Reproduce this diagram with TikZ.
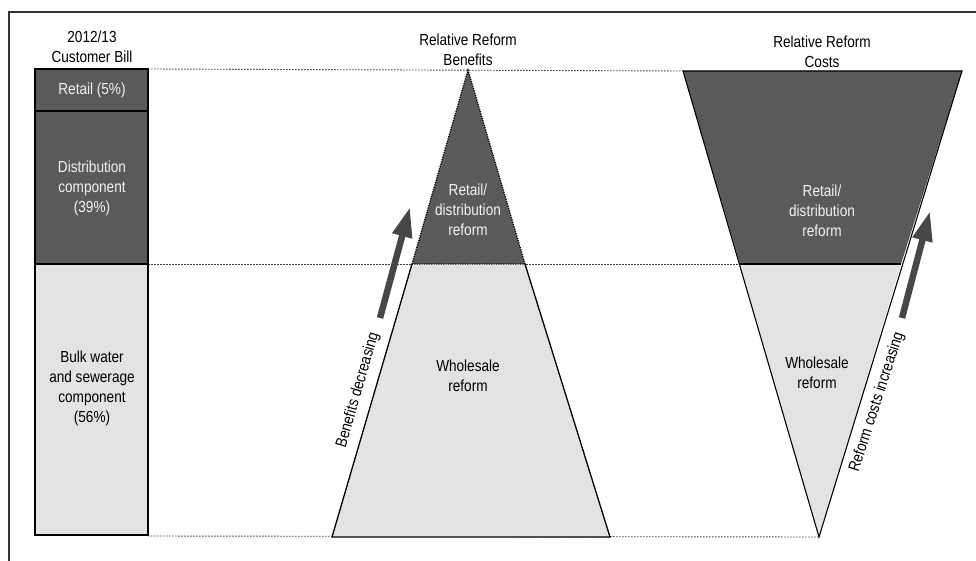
\documentclass[tikz,border=0pt]{standalone}
\usepackage{fontspec}
\setmainfont{Liberation Sans}[FakeStretch=0.85]
\usetikzlibrary{arrows.meta}
\definecolor{darkfill}{HTML}{5A5A5A}
\definecolor{lightfill}{HTML}{E3E3E3}
\definecolor{arrowgray}{HTML}{474747}
\definecolor{lbltext}{HTML}{F2F2F2}
\tikzset{
  lbl/.style={align=center, font=\fontsize{16}{20}\selectfont, inner sep=0pt},
  wlbl/.style={lbl, text=lbltext},
  guide/.style={line width=0.9pt, black!75, dash pattern=on 1.6pt off 1.4pt},
  solidedge/.style={line width=1.3pt, black},
  dotedge/.style={line width=1.3pt, black, dash pattern=on 1.2pt off 1.2pt},
  bigarrow/.style={line width=6.5pt, arrowgray, -{Triangle[length=30pt,width=19pt]}},
}
\begin{document}
\begin{tikzpicture}[x=1pt,y=-1pt]
\useasboundingbox (0,0) rectangle (976,561);
% frame
\draw[line width=1.2pt, black!80] (9,561) -- (9,12) -- (976,12);

% coordinates
\coordinate (barTL) at (35,69);
\coordinate (barBR) at (148,535);
\coordinate (barR1) at (148,111);
\coordinate (barL1) at (35,111);
\coordinate (barR2) at (148,264);
\coordinate (barL2) at (35,264);
\coordinate (barTR) at (148,69);

\coordinate (bA) at (468,70);
\coordinate (bML) at (412,264);
\coordinate (bMR) at (525,264);
\coordinate (bBL) at (332,537);
\coordinate (bBR) at (610,537);

\coordinate (cTL) at (683,71);
\coordinate (cTR) at (962,71);
\coordinate (cML) at (740,264);
\coordinate (cMR) at (901,264);
\coordinate (cA) at (819,537);

% guide lines
\draw[guide] (barTR) -- (cTL);
\draw[guide] (barR2) -- (cML);
\draw[guide] (148,536) -- (cA);

% left bar
\fill[darkfill] (barTL) rectangle (barR2);
\fill[lightfill] (barL2) rectangle (barBR);
\draw[solidedge] (barTL) rectangle (barBR);
\draw[solidedge] (barL1) -- (barR1);
\draw[solidedge] (barL2) -- (barR2);

% benefits triangle
\fill[darkfill] (bA) -- (bML) -- (bMR) -- cycle;
\fill[lightfill] (bML) -- (bMR) -- (bBR) -- (bBL) -- cycle;
\draw[dotedge] (bML) -- (bA) -- (bMR) -- cycle;
\draw[solidedge] (bML) -- (bBL) -- (bBR) -- (bMR);

% costs trapezoid
\fill[darkfill] (cTL) -- (cTR) -- (cMR) -- (cML) -- cycle;
\fill[lightfill] (cML) -- (cMR) -- (cA) -- cycle;
\draw[solidedge, line width=1.1pt] (cTL) -- (cTR) -- (cA) -- cycle;
\draw[solidedge, line width=1.1pt] (cML) -- (cMR);

% arrows
\coordinate (bArrT) at (380,318);
\coordinate (bArrH) at (410,207);
\coordinate (cArrT) at (902,318);
\coordinate (cArrH) at (930,211);
\draw[bigarrow] (bArrT) -- (bArrH);
\draw[bigarrow] (cArrT) -- (cArrH);

% titles
\node[lbl] (tBill) at (92,47) {2012/13\\Customer Bill};
\node[lbl] (tBen) at (468,50) {Relative Reform\\Benefits};
\node[lbl] (tCost) at (822,52) {Relative Reform\\Costs};

% bar labels
\node[wlbl] (lRetail) at (92,90) {Retail (5\%)};
\node[wlbl] (lDist) at (92,188) {Distribution\\component\\(39\%)};
\node[lbl] (lBulk) at (92,388) {Bulk water\\and sewerage\\component\\(56\%)};

% triangle labels
\node[wlbl] (lBRet) at (468,210) {Retail/\\distribution\\reform};
\node[lbl] (lBWh) at (468,376) {Wholesale\\reform};
\node[wlbl] (lCRet) at (822,211) {Retail/\\distribution\\reform};
\node[lbl] (lCWh) at (817,373) {Wholesale\\reform};

% rotated labels
\node[lbl, rotate=74] (lBenDec) at (358,390) {Benefits decreasing};
\node[lbl, rotate=72] (lCostInc) at (877,402) {Reform costs increasing};
\end{tikzpicture}
\end{document}
